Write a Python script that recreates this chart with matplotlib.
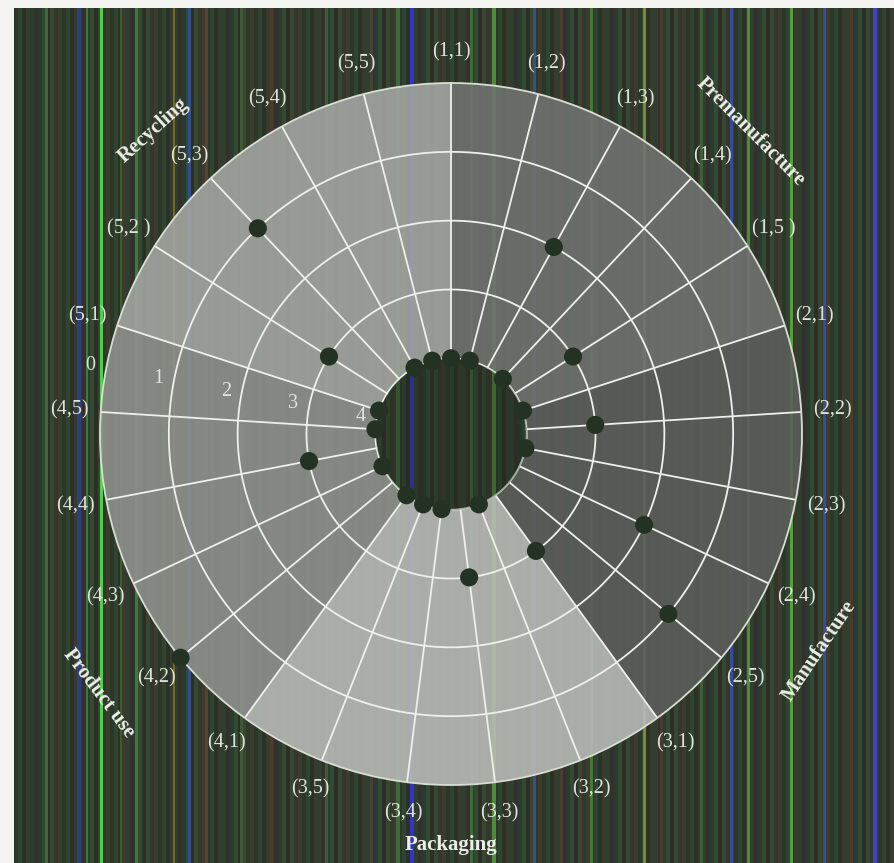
import numpy as np
import matplotlib
matplotlib.use("Agg")
import matplotlib.pyplot as plt
from matplotlib.colors import to_rgb

# ---- data -------------------------------------------------------------
stages = ["Premanufacture", "Manufacture", "Packaging", "Product use", "Recycling"]
spoke_labels = ["(1,1)", "(1,2)", "(1,3)", "(1,4)", "(1,5 )",
                "(2,1)", "(2,2)", "(2,3)", "(2,4)", "(2,5)",
                "(3,1)", "(3,2)", "(3,3)", "(3,4)", "(3,5)",
                "(4,1)", "(4,2)", "(4,3)", "(4,4)", "(4,5)",
                "(5,1)", "(5,2 )", "(5,3)", "(5,4)", "(5,5)"]
scores = [4, 4, 2, 4, 3,
          4, 3, 4, 2, 1,
          3, 4, 3, 4, 4,
          4, 0, 4, 3, 4,
          4, 3, 1, 4, 4]
ring_values = [0, 1, 2, 3, 4]

# ---- styling ----------------------------------------------------------
stage_colors = ["#6f726e", "#5b5e5a", "#b8bbb6", "#8e918c", "#a3a6a1"]
stage_label_angles = [44.7, 120.5, 180.0, 233.7, 315.5]
stage_label_radii = [6.18, 6.2, 5.97, 6.35, 6.18]
stage_label_rot = [-45, 56, 0, -53, 42]
R0 = 5.1                       # radial position of score 0 (outer rim)
SERIF = "Liberation Serif"
TXT = "#dfe3db"

# striped dark backdrop
W_BG = 881
base_cycle = ["#2b3829", "#324430", "#283226", "#3a3b2d", "#2d4030",
              "#36302a", "#2a3a30", "#334a32", "#2c2e28", "#3a4530",
              "#30382b", "#3d3a2e"]
highlights = [(30, 3, "#25402a"), (45, 3, "#3d6a35"), (77, 4, "#2c3f80"),
              (86, 2, "#3f7a3a"), (100, 3, "#4fd04f"), (120, 2, "#3b5e30"),
              (135, 3, "#3f7a3a"), (173, 2, "#6b6b2a"), (188, 3, "#34508a"),
              (205, 3, "#5a4032"), (240, 3, "#3e5a34"), (270, 3, "#4c3a30"),
              (325, 3, "#3c5d38"), (370, 3, "#4a4034"), (396, 4, "#3c6a38"),
              (410, 4, "#3434c8"), (470, 3, "#3d6a38"), (492, 4, "#4f8a3a"),
              (533, 3, "#36508a"), (560, 3, "#4a3c30"), (590, 3, "#477a3a"),
              (643, 3, "#7a8a30"), (660, 3, "#4c3a30"), (700, 3, "#3e5f38"),
              (730, 3, "#3a4a9a"), (747, 3, "#4f8a3a"), (790, 3, "#55a040"),
              (823, 3, "#3a4aa0"), (850, 3, "#4a3a2a"), (873, 4, "#4040c8")]

stripe = np.zeros((1, W_BG, 3))
for i in range(W_BG):
    stripe[0, i] = to_rgb(base_cycle[(i // 4) % len(base_cycle)])
for x, w, c in highlights:
    stripe[0, max(x - 14, 0):x - 14 + w] = to_rgb(c)

fig = plt.figure(figsize=(8.95, 8.63), dpi=100)
fig.patch.set_facecolor("#f3f3ef")
bg = fig.add_axes([14 / 895, 0, 1 - 14 / 895, 1 - 8 / 863])
bg.imshow(stripe, aspect="auto", interpolation="nearest", extent=[0, 1, 0, 1])
bg.axis("off")

cx, cy = 451 / 895, 1 - 434 / 863
rw, rh = 351 / 895, 351 / 863
ax = fig.add_axes([cx - rw, cy - rh, 2 * rw, 2 * rh], projection="polar")
ax.set_theta_zero_location("N")
ax.set_theta_direction(-1)
ax.patch.set_alpha(0)
ax.set_ylim(0, R0)
ax.grid(False)
ax.set_xticks([])
ax.set_yticks([])
ax.spines["polar"].set_color("#d9ddd5")
ax.spines["polar"].set_linewidth(1.3)

n = len(spoke_labels)
step = 2 * np.pi / n
thetas = np.arange(n) * step
per = n // len(stages)
r_inner = R0 - max(ring_values)

# stage sectors (annular, the hub stays dark)
for k, col in enumerate(stage_colors):
    ax.bar(k * per * step, R0 - r_inner, width=per * step, bottom=r_inner,
           align="edge", color=col, alpha=0.9, edgecolor="none", zorder=1)

# rings and spokes
full = np.linspace(0, 2 * np.pi, 400)
for v in ring_values[1:]:
    ax.plot(full, np.full_like(full, R0 - v), color="#eef0ea", lw=1.3, zorder=2)
for th in thetas:
    ax.plot([th, th], [r_inner, R0], color="#eef0ea", lw=1.3, zorder=2)

# dark hub
ax.fill_between(full, 0, r_inner, color="#1f2a1d", alpha=0.35, lw=0, zorder=3)

# scores
ax.scatter(thetas, R0 - np.array(scores), s=170, color="#243224",
           edgecolor="none", zorder=5, clip_on=False)

# spoke labels
for th, lab in zip(thetas, spoke_labels):
    ax.text(th, 5.55, lab, ha="center", va="center", fontsize=14.5,
            family=SERIF, color=TXT, clip_on=False)

# ring value labels
ring_theta = np.deg2rad(280.8)
for v in ring_values:
    ax.text(ring_theta, R0 - v + 0.23, str(v), ha="center", va="center",
            fontsize=14.5, family=SERIF, color=TXT, clip_on=False)

# stage titles
for name, a, r, rot in zip(stages, stage_label_angles, stage_label_radii, stage_label_rot):
    ax.text(np.deg2rad(a), r, name, ha="center", va="center", fontsize=15,
            fontweight="bold", family=SERIF, color="#eceee8", rotation=rot,
            rotation_mode="anchor", clip_on=False)

fig.savefig("out.png", dpi=100, facecolor=fig.get_facecolor())
